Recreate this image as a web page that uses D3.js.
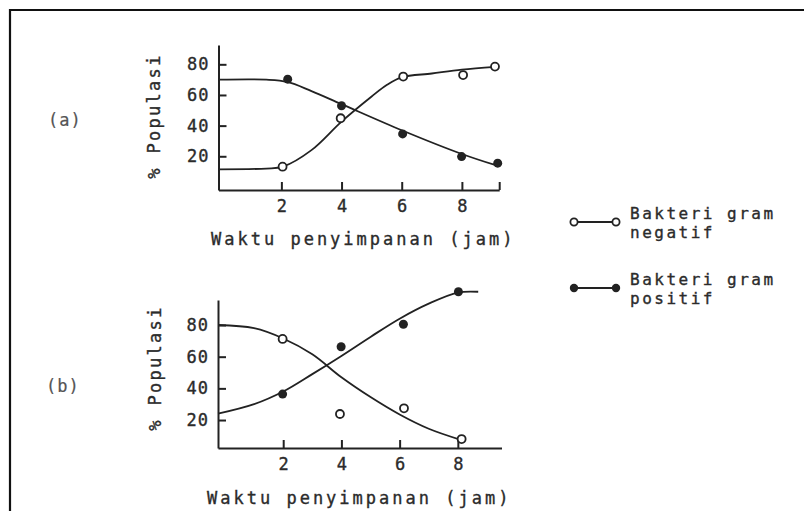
<!DOCTYPE html>
<html>
<head>
<meta charset="utf-8">
<script src="https://cdn.jsdelivr.net/npm/d3@7"></script>
<style>
  body { margin: 0; background: #fff; }
  svg text { font-family: "DejaVu Sans Mono", monospace; fill: #2b2b2b; stroke: #2b2b2b; stroke-width: 0.35px; }
</style>
</head>
<body>
<div id="chart"></div>
<script>
// ticks
var timeTicks = [2, 4, 6, 8];
var popTicks = [20, 40, 60, 80];

// (a) observed points
var aNegTime = [2.04, 3.97, 6.05, 8.04, 9.10];
var aNegPop  = [13.2, 44.8, 72.0, 73.0, 78.5];
var aPosTime = [2.21, 4.00, 6.03, 7.99, 9.19];
var aPosPop  = [70.3, 53.0, 34.6, 19.8, 15.5];

// (a) hand drawn curves
var aNegCurveTime = [-0.09, 1.5, 2.05, 3, 4, 5, 5.5, 6, 7, 8, 9.1];
var aNegCurvePop  = [11.5, 12, 13.2, 24, 42.6, 59, 66.5, 71.5, 74, 76.5, 78.3];
var aPosCurveTime = [-0.09, 1.5, 2.2, 3, 4, 6, 8, 9.15];
var aPosCurvePop  = [70, 70, 68.5, 62.5, 54, 37, 21.5, 14];

// (b) observed points
var bNegTime = [1.98, 3.95, 6.15, 8.13];
var bNegPop  = [71.2, 23.8, 27.4, 8.0];
var bPosTime = [1.98, 3.99, 6.13, 8.02];
var bPosPop  = [36.4, 66.3, 80.5, 101];

// (b) hand drawn curves
var bNegCurveTime = [-0.24, 1, 2, 3, 4, 5, 6, 7, 8.1];
var bNegCurvePop  = [80, 78, 71.5, 61.5, 47, 34.5, 23.5, 14.5, 7.5];
var bPosCurveTime = [-0.24, 1, 2, 3, 4, 5, 6, 7, 8, 8.7];
var bPosCurvePop  = [24, 30, 38, 49, 60.5, 72.5, 84, 93.5, 100.5, 101];

var legendLabels = [["Bakteri gram", "negatif"], ["Bakteri gram", "positif"]];
var xTitle = "Waktu penyimpanan (jam)";
var yTitle = "% Populasi";

var ink = "#222";

function zip(xs, ys) {
  return xs.map(function (v, i) { return [v, ys[i]]; });
}

var svg = d3.select("#chart").append("svg")
  .attr("width", 804)
  .attr("height", 511);

// frame (top and left edge only)
svg.append("path")
  .attr("d", "M10,511 L10,10 L804,10")
  .attr("fill", "none")
  .attr("stroke", "#111")
  .attr("stroke-width", 2.2);

var panels = [
  {
    tag: "(a)", tagX: 48, tagY: 126,
    xDomain: [-0.09, 9.24], xRange: [218.5, 499.2],
    yDomain: [-2, 92.6], yRange: [190, 45],
    endTick: true,
    xTitleX: 211, xTitleY: 245, yTitleX: 160, yTitleY: 116,
    neg: zip(aNegTime, aNegPop), pos: zip(aPosTime, aPosPop),
    negCurve: zip(aNegCurveTime, aNegCurvePop), posCurve: zip(aPosCurveTime, aPosCurvePop)
  },
  {
    tag: "(b)", tagX: 46, tagY: 392,
    xDomain: [-0.24, 9.5], xRange: [218, 501.5],
    yDomain: [2.34, 95.8], yRange: [448, 300],
    endTick: false,
    xTitleX: 207, xTitleY: 504, yTitleX: 161, yTitleY: 368,
    neg: zip(bNegTime, bNegPop), pos: zip(bPosTime, bPosPop),
    negCurve: zip(bNegCurveTime, bNegCurvePop), posCurve: zip(bPosCurveTime, bPosCurvePop)
  }
];

panels.forEach(function (p) {
  var x = d3.scaleLinear().domain(p.xDomain).range(p.xRange);
  var y = d3.scaleLinear().domain(p.yDomain).range(p.yRange);
  var g = svg.append("g");

  // x axis, ticks pointing up
  var xt = timeTicks.slice();
  if (p.endTick) xt.push(p.xDomain[1]);
  var xAxis = g.append("g")
    .attr("transform", "translate(0," + p.yRange[0] + ")")
    .call(d3.axisBottom(x)
      .tickValues(xt)
      .tickFormat(function (d) { return timeTicks.indexOf(d) < 0 ? "" : d; })
      .tickSizeInner(-8).tickSizeOuter(0).tickPadding(10));

  // y axis, ticks pointing right
  var yAxis = g.append("g")
    .attr("transform", "translate(" + p.xRange[0] + ",0)")
    .call(d3.axisLeft(y)
      .tickValues(popTicks)
      .tickSizeInner(-8).tickSizeOuter(0).tickPadding(9));

  [xAxis, yAxis].forEach(function (a) {
    a.selectAll("path, line").attr("stroke", ink).attr("stroke-width", 2);
    a.selectAll("text")
      .style("font-family", "DejaVu Sans Mono")
      .style("font-size", "17px")
      .style("letter-spacing", "1px")
      .attr("fill", "#2b2b2b");
  });
  xAxis.selectAll("text").attr("dx", "0.5px");

  // curves
  var line = d3.line()
    .x(function (d) { return x(d[0]); })
    .y(function (d) { return y(d[1]); })
    .curve(d3.curveCatmullRom.alpha(0.5));

  [p.negCurve, p.posCurve].forEach(function (c) {
    g.append("path")
      .datum(c)
      .attr("d", line)
      .attr("fill", "none")
      .attr("stroke", ink)
      .attr("stroke-width", 1.8);
  });

  // points
  g.selectAll("circle.neg")
    .data(p.neg).enter()
    .append("circle")
    .attr("class", "neg")
    .attr("cx", function (d) { return x(d[0]); })
    .attr("cy", function (d) { return y(d[1]); })
    .attr("r", 4)
    .attr("fill", "#fff")
    .attr("stroke", ink)
    .attr("stroke-width", 1.8);

  g.selectAll("circle.pos")
    .data(p.pos).enter()
    .append("circle")
    .attr("class", "pos")
    .attr("cx", function (d) { return x(d[0]); })
    .attr("cy", function (d) { return y(d[1]); })
    .attr("r", 4.5)
    .attr("fill", ink);

  // titles
  g.append("text")
    .attr("x", p.xTitleX)
    .attr("y", p.xTitleY)
    .style("font-size", "17px")
    .style("letter-spacing", "3px")
    .text(xTitle);

  g.append("text")
    .attr("transform", "translate(" + p.yTitleX + "," + p.yTitleY + ") rotate(-90)")
    .attr("text-anchor", "middle")
    .style("font-size", "17px")
    .style("letter-spacing", "2.3px")
    .text(yTitle);

  g.append("text")
    .attr("x", p.tagX)
    .attr("y", p.tagY)
    .style("font-size", "17px")
    .style("letter-spacing", "1px")
    .style("fill", "#555")
    .style("stroke", "#555")
    .style("stroke-width", "0.2px")
    .text(p.tag);
});

// legend
var legendY = [222, 288];
legendLabels.forEach(function (lab, i) {
  var lg = svg.append("g").attr("transform", "translate(0," + legendY[i] + ")");
  lg.append("line")
    .attr("x1", 574).attr("x2", 616)
    .attr("y1", 0).attr("y2", 0)
    .attr("stroke", ink).attr("stroke-width", 1.8);
  lg.selectAll("circle")
    .data([574, 616]).enter()
    .append("circle")
    .attr("cx", function (d) { return d; })
    .attr("cy", 0)
    .attr("r", i == 0 ? 3.6 : 4.2)
    .attr("fill", i == 0 ? "#fff" : ink)
    .attr("stroke", ink)
    .attr("stroke-width", i == 0 ? 1.8 : 0);
  lg.selectAll("text")
    .data(lab).enter()
    .append("text")
    .attr("x", 630)
    .attr("y", function (d, j) { return -3 + j * 19; })
    .style("font-size", "16px")
    .style("letter-spacing", "2.5px")
    .text(function (d) { return d; });
});
</script>
</body>
</html>
